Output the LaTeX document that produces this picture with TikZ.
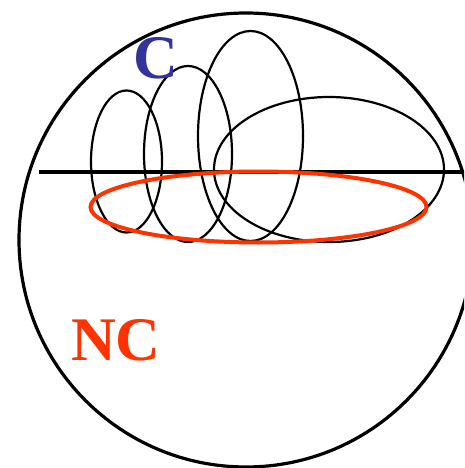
\documentclass[tikz,border=0pt]{standalone}
\usepackage{fontspec}
\setmainfont{Liberation Serif}
\usepackage{xcolor}
\usepackage{tikz}
\definecolor{cblue}{RGB}{51,51,153}
\definecolor{ncred}{RGB}{255,51,0}

\begin{document}
\begin{tikzpicture}[x=1pt,y=-1pt,line width=2.2pt,
	lbl/.style={inner sep=0pt,font=\fontsize{62}{62}\selectfont\bfseries}]
			\useasboundingbox (0,0) rectangle (464,468);
			\clip (0,0) rectangle (464,468);
			
			\coordinate (O) at (246,240);
			\coordinate (L) at (39,172);
			\coordinate (R) at (463,172);
			
			\draw[line width=3.2pt] (O) circle (227pt);
			\draw[line width=3.2pt] (L)--(R);
			
			\draw (126.5,161.5) ellipse [x radius=35.5pt,y radius=71pt];
			\draw (188,154) ellipse [x radius=44pt,y radius=88pt];
			\draw (250.5,136) ellipse [x radius=52.5pt,y radius=105pt];
			\draw (329,169.5) ellipse [x radius=115pt,y radius=72.5pt];
			\draw[ncred,line width=4pt] (258.5,207) ellipse [x radius=168pt,y radius=35.5pt];
			
			\node[lbl,text=cblue] (c) at (156,58) {C};
			\node[lbl,text=ncred] (nc) at (116,340) {NC};
		\end{tikzpicture}
\end{document}
